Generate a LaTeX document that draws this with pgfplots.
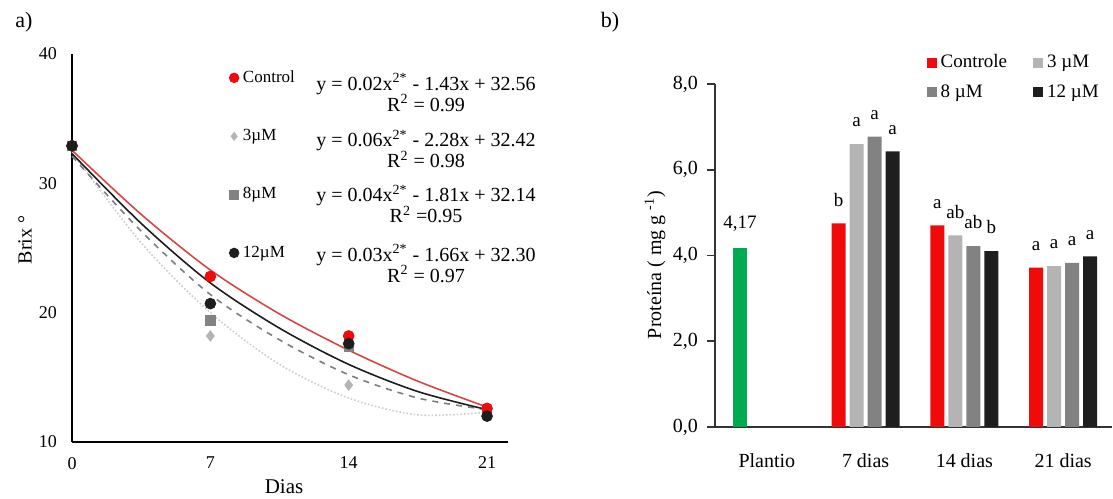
\documentclass[border=0pt]{standalone}
\usepackage{fontspec}
\setmainfont{Liberation Serif}
\usepackage{pgfplots}
\pgfplotsset{compat=1.18}
\definecolor{cRed}{RGB}{240,10,10}
\definecolor{cRedL}{RGB}{215,70,70}
\definecolor{cLG}{RGB}{180,180,180}
\definecolor{cLGL}{RGB}{205,205,205}
\definecolor{cG}{RGB}{130,130,130}
\definecolor{cGD}{RGB}{120,125,135}
\definecolor{cBk}{RGB}{30,30,30}
\definecolor{cGreen}{RGB}{0,170,80}
\begin{document}
\begin{tikzpicture}[x=1pt,y=1pt]
\path[use as bounding box] (0pt,0pt) rectangle (556.5pt,249pt);
% ---------------- panel a ----------------
\begin{axis}[at={(36pt,28pt)}, anchor=south west, scale only axis,
  width=218pt, height=194pt,
  xmin=0, xmax=22.06, ymin=10, ymax=40,
  axis x line*=bottom, axis y line*=left,
  axis line style={line width=1pt, black},
  xtick={0,7,14,21}, ytick={10,20,30,40},
  major tick length=0pt,
  /pgf/number format/assume math mode=true,
  ticklabel style={font=\fontsize{9}{10}\selectfont},
  xticklabel style={yshift=-4pt},
  yticklabel style={xshift=-4pt},
  clip=false,
  legend style={at={(0.36,0.969)}, anchor=north west, draw=none, fill=none,
    font=\fontsize{8.5}{9}\selectfont, row sep=18pt, inner sep=0pt},
  legend cell align=left,
  legend image code/.code={\draw[#1] plot coordinates {(2.5pt,0pt)};},
]
% fitted curves
\addplot[cLGL, densely dotted, line width=0.8pt, smooth, forget plot] coordinates {
 (0,32.4) (3.5,25.4) (7,20.0) (10.5,16.0) (14,13.4) (17.5,12.1) (21,12.3)};
\addplot[cGD, dashed, line width=0.8pt, smooth, forget plot] coordinates {
 (0,32.1) (3.5,26.3) (7,21.4) (10.5,17.9) (14,15.2) (17.5,13.4) (21,12.5)};
\addplot[cBk, line width=0.8pt, smooth, forget plot] coordinates {
 (0,32.3) (3.5,26.9) (7,22.3) (10.5,18.8) (14,16.0) (17.5,13.9) (21,12.5)};
\addplot[cRedL, line width=0.8pt, smooth, forget plot] coordinates {
 (0,32.56) (3.5,27.6) (7,23.3) (10.5,19.9) (14,17.1) (17.5,14.7) (21,12.7)};
% points
\addplot[only marks, mark=diamond*, mark size=2.6pt, color=cLG, forget plot] coordinates {
 (0,32.9) (7,18.2) (14,14.4) (21,12.3)};
\addplot[only marks, mark=square*, mark size=2.4pt, color=cG, forget plot] coordinates {
 (0,32.9) (7,19.4) (14,17.4) (21,12.4)};
\addplot[only marks, mark=*, mark size=2.7pt, color=cRed, forget plot] coordinates {
 (0,32.9) (7,22.8) (14,18.2) (21,12.6)};
\addplot[only marks, mark=*, mark size=2.7pt, color=cBk, forget plot] coordinates {
 (0,32.9) (7,20.7) (14,17.6) (21,12.0)};
\addlegendimage{only marks, mark=*, mark size=2.4pt, color=cRed}
\addlegendentry{Control}
\addlegendimage{only marks, mark=diamond*, mark size=2pt, color=cLG}
\addlegendentry{3µM}
\addlegendimage{only marks, mark=square*, mark size=2.2pt, color=cG}
\addlegendentry{8µM}
\addlegendimage{only marks, mark=*, mark size=2.4pt, color=cBk}
\addlegendentry{12µM}
\end{axis}
\begin{scope}[every node/.style={align=center, inner sep=0pt, font=\fontsize{10}{10.5}\selectfont}]
\node at (213pt,202.75pt) {y = 0.02x\textsuperscript{2*} - 1.43x + 32.56\\R\textsuperscript{2} = 0.99};
\node at (213pt,174.5pt) {y = 0.06x\textsuperscript{2*} - 2.28x + 32.42\\R\textsuperscript{2} = 0.98};
\node at (213pt,147pt) {y = 0.04x\textsuperscript{2*} - 1.81x + 32.14\\R\textsuperscript{2} =0.95};
\node at (213pt,117.25pt) {y = 0.03x\textsuperscript{2*} - 1.66x + 32.30\\R\textsuperscript{2} = 0.97};
\end{scope}
\node[font=\fontsize{11}{12}\selectfont] at (12pt,238pt) {a)};
\node[font=\fontsize{10}{11}\selectfont, rotate=90] at (12.5pt,129pt) {Brix °};
\node[font=\fontsize{10.5}{11}\selectfont] at (142pt,5.5pt) {Dias};
% ---------------- panel b ----------------
\begin{axis}[at={(357.5pt,35.5pt)}, anchor=south west, scale only axis,
  width=198.5pt, height=171.5pt,
  xmin=-0.525, xmax=3.495, ymin=0, ymax=8,
  axis x line*=bottom, axis y line*=left,
  axis line style={line width=0.8pt, black!80},
  ybar, bar width=0.141,
  ytick={0,2,4,6,8}, yticklabels={{0,0},{2,0},{4,0},{6,0},{8,0}},
  xtick={0,1,2,3}, xticklabels={Plantio,7 dias,14 dias,21 dias},
  xtick style={draw=none},
  ytick style={black!80, line width=0.8pt},
  tick align=outside, major tick length=4pt,
  ticklabel style={font=\fontsize{10}{11}\selectfont},
  yticklabel style={xshift=-1pt},
  xticklabel style={yshift=-6pt},
  clip=false,
  point meta=explicit symbolic,
  nodes near coords,
  every node near coord/.append style={font=\fontsize{9.5}{10}\selectfont, yshift=5pt, black},
  legend style={at={(0.532,1.099)}, anchor=north west, draw=none, fill=none,
    font=\fontsize{9.5}{10}\selectfont, row sep=3pt, inner sep=0pt,
    /tikz/every even column/.append style={column sep=11pt}},
  legend columns=2,
  legend cell align=left,
  legend image code/.code={\fill[#1] (0pt,-2.5pt) rectangle (5pt,2.5pt);},
]
\addplot[fill=cGreen, draw=none, bar shift=-0.273, forget plot] table[meta=l] {
x y l
0 4.17 {4,17}
};
\addplot[fill=cRed, draw=none, bar shift=-0.273] table[meta=l] {
x y l
1 4.75 b
2 4.70 a
3 3.72 a
};
\addplot[fill=cLG, draw=none, bar shift=-0.091] table[meta=l] {
x y l
1 6.60 a
2 4.47 ab
3 3.75 a
};
\addplot[fill=cG, draw=none, bar shift=0.091] table[meta=l] {
x y l
1 6.77 a
2 4.22 ab
3 3.83 a
};
\addplot[fill=cBk, draw=none, bar shift=0.273] table[meta=l] {
x y l
1 6.43 a
2 4.10 b
3 3.98 a
};
\legend{Controle, 3 µM, 8 µM, 12 µM}
\end{axis}
\node[font=\fontsize{11}{12}\selectfont] at (305pt,238pt) {b)};
\node[font=\fontsize{10}{11}\selectfont, rotate=90] at (327.5pt,116.5pt) {Proteína ( mg g \textsuperscript{-1})};
\end{tikzpicture}
\end{document}
